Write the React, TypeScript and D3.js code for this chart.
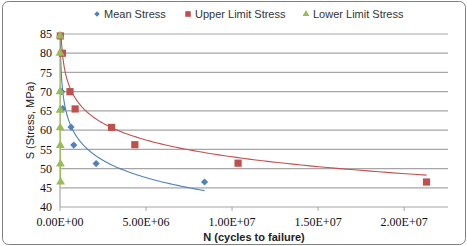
import * as d3 from "d3";

// stress levels (MPa) and cycles to failure
const meanN = [8e3, 3e4, 1.0e5, 1.6e5, 6.4e5, 8.0e5, 2.1e6, 8.4e6];
const meanS = [84.5, 80, 70, 65.6, 60.8, 56.1, 51.3, 46.5];
const upperN = [2e4, 1.4e5, 5.8e5, 8.8e5, 3.0e6, 4.35e6, 1.035e7, 2.13e7];
const upperS = [84.5, 80, 70, 65.5, 60.7, 56.2, 51.4, 46.5];
const lowerN = [2e3, 3e3, 5e3, 8e3, 1.2e4, 1.7e4, 2.5e4, 3.5e4];
const lowerS = [84.5, 80, 70, 65.2, 60.6, 56.0, 51.2, 46.5];

// logarithmic trendlines S = a - b ln(N), as shown in the picture
const meanTrend = { a: 147.9, b: 6.5 };
const upperTrend = { a: 154.6, b: 6.3 };
const lowerTrend = { a: 185.6, b: 13.3 };

const xTicks = [0, 5e6, 1e7, 1.5e7, 2e7];
const xTickLabels = ["0.00E+00", "5.00E+06", "1.00E+07", "1.50E+07", "2.00E+07"];
const yTicks = [40, 45, 50, 55, 60, 65, 70, 75, 80, 85];

const series = [
  { name: "Mean Stress", n: meanN, s: meanS, trend: meanTrend, color: "#4F81BD", shape: d3.symbolSquare, size: 26, rot: 45 },
  { name: "Upper Limit Stress", n: upperN, s: upperS, trend: upperTrend, color: "#C0504D", shape: d3.symbolSquare, size: 52, rot: 0 },
  { name: "Lower Limit Stress", n: lowerN, s: lowerS, trend: lowerTrend, color: "#9BBB59", shape: d3.symbolTriangle, size: 34, rot: 0 },
];

export default function App() {
  const width = 467;
  const height = 246;
  const margin = { top: 34, right: 19, bottom: 39, left: 60 };

  const x = d3.scaleLinear().domain([0, 2.255e7]).range([margin.left, width - margin.right]);
  const y = d3.scaleLinear().domain([40, 85]).range([height - margin.bottom, margin.top]);

  const trendPath = (n: number[], t: { a: number; b: number }) => {
    const lo = Math.log(d3.min(n)!);
    const hi = Math.log(d3.max(n)!);
    const pts = d3.range(0, 201).map((i) => Math.exp(lo + ((hi - lo) * i) / 200));
    return d3.line<number>()
      .x((d) => x(d))
      .y((d) => y(t.a - t.b * Math.log(d)))(pts);
  };

  const tickFont = "'Liberation Serif', 'Times New Roman', serif";
  const sans = "'Liberation Sans', Arial, sans-serif";

  return (
    <svg width={width} height={height} style={{ position: "absolute", left: 0, top: 0, background: "#fff" }}>
      <defs>
        <clipPath id="plot">
          <rect x={margin.left} y={margin.top} width={width - margin.left - margin.right} height={height - margin.top - margin.bottom} />
        </clipPath>
      </defs>
      <rect x={2.5} y={1.5} width={463} height={243} rx={6} fill="#fff" stroke="#7f7f7f" />

      {/* grid */}
      {yTicks.map((t) => (
        <line key={t} x1={margin.left} x2={width - margin.right} y1={y(t)} y2={y(t)} stroke="#a6a6a6" strokeWidth={1.2} />
      ))}
      <line x1={x(0)} x2={x(0)} y1={margin.top} y2={y(40)} stroke="#a6a6a6" strokeWidth={1.2} />
      {xTicks.map((t) => (
        <line key={t} x1={x(t)} x2={x(t)} y1={y(40)} y2={y(40) + 4} stroke="#a6a6a6" />
      ))}

      {/* tick labels */}
      {yTicks.map((t) => (
        <text key={t} x={margin.left - 8} y={y(t)} dy="0.35em" textAnchor="end" fontFamily={tickFont} fontSize={12} fill="#111">
          {t}
        </text>
      ))}
      {xTicks.map((t, i) => (
        <text key={t} x={x(t)} y={226} textAnchor="middle" fontFamily={tickFont} fontSize={12} fill="#111">
          {xTickLabels[i]}
        </text>
      ))}

      {/* axis titles */}
      <text transform={`translate(34,${(margin.top + y(40)) / 2}) rotate(-90)`} textAnchor="middle" fontFamily={sans} fontSize={11} fill="#222">
        S (Stress, MPa)
      </text>
      <text x={254} y={241} textAnchor="middle" fontFamily={sans} fontSize={11} fontWeight="bold" fill="#222">
        N (cycles to failure)
      </text>

      {/* trendlines and markers */}
      <g clipPath="url(#plot)">
        {series.map((s) => (
          <path key={s.name} d={trendPath(s.n, s.trend) ?? ""} fill="none" stroke={s.color} strokeWidth={1.1} />
        ))}
      </g>
      {series.map((s) => (
        <g key={s.name}>
          {s.n.map((n, i) => (
            <path
              key={i}
              transform={`translate(${x(n)},${y(s.s[i])}) rotate(${s.rot})`}
              d={d3.symbol(s.shape, s.size)() ?? ""}
              fill={s.color}
            />
          ))}
        </g>
      ))}

      {/* legend */}
      {series.map((s, i) => {
        const lx = [97, 188, 306][i];
        return (
          <g key={s.name} transform={`translate(${lx},14)`}>
            <path transform={`rotate(${s.rot})`} d={d3.symbol(s.shape, s.size * 0.6)() ?? ""} fill={s.color} />
            <text x={7} dy="0.35em" fontFamily={sans} fontSize={11} fill="#333">
              {s.name}
            </text>
          </g>
        );
      })}
    </svg>
  );
}
